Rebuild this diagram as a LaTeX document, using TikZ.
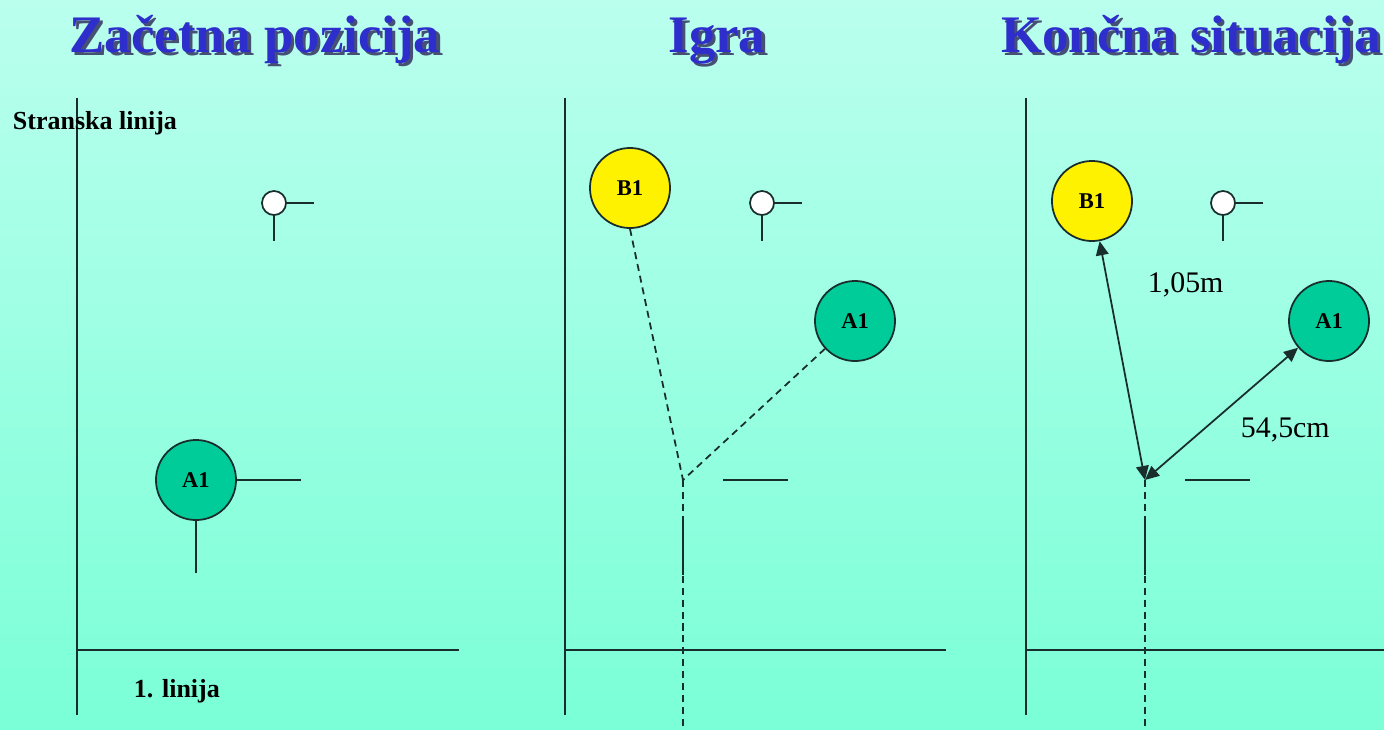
\documentclass[tikz,border=0pt]{standalone}
\usepackage{fontspec}
\setmainfont{Liberation Serif}
\usetikzlibrary{arrows.meta}
\definecolor{titleblue}{RGB}{46,46,204}
\definecolor{titleshade}{RGB}{70,80,115}
\definecolor{bgtop}{RGB}{186,255,238}
\definecolor{bgbot}{RGB}{122,255,214}
\definecolor{pen}{RGB}{25,45,45}
\definecolor{agreen}{RGB}{0,204,153}
\newcommand{\shadetitle}[1]{\makebox[0pt][l]{\kern0.9pt\raisebox{-0.9pt}{\color{titleshade}#1}}#1}

\begin{document}
\begin{tikzpicture}[x=0.01cm,y=-0.01cm,line width=0.5pt]
\tikzstyle{player}=[circle,draw=pen,minimum size=0.8cm,inner sep=0pt,font=\fontsize{6.4}{7}\selectfont\bfseries]
\tikzstyle{ball}=[circle,draw=pen,fill=white,minimum size=0.24cm,inner sep=0pt]
\tikzstyle{title}=[anchor=base,inner sep=0pt,text=titleblue,font=\fontsize{15}{18}\selectfont\bfseries]
\tikzstyle{small}=[anchor=base west,inner sep=0pt,font=\fontsize{7.4}{9}\selectfont\bfseries]
\tikzstyle{dist}=[anchor=base west,inner sep=0pt,font=\fontsize{8.5}{10}\selectfont]
\tikzstyle{dashline}=[dash pattern=on 2pt off 1.4pt]
\tikzstyle{measure}=[{Triangle[length=4pt,width=3.6pt]}-{Triangle[length=4pt,width=3.6pt]}]
\useasboundingbox (0,0) rectangle (1384,730);
\shade[top color=bgtop,bottom color=bgbot] (0,0) rectangle (1384,730);
\node[title] (tz) at (255,52) {\shadetitle{Začetna pozicija}};
\node[title] (ti) at (717,52) {\shadetitle{Igra}};
\node[title] (tk) at (1191,52) {\shadetitle{Končna situacija}};
% court lines
\foreach \x/\e in {77/459,565/946,1026/1384}{
	\draw[pen] (\x,98) -- (\x,715);
	\draw[pen] (\x,650) -- (\e,650);}
\node[small] (stranska) at (12,129) {Stranska linija};
\node[small] (prva) at (133,697) {1. linija};
% players and balls
\foreach \name/\point/\col/\txt in {
	za/{196,480}/agreen/A1,
	ib/{630,188}/yellow/B1,
	ia/{855,321}/agreen/A1,
	kb/{1092,201}/yellow/B1,
	ka/{1329,321}/agreen/A1}
	\node[player,fill=\col] (\name) at (\point) {\txt};
\foreach \name/\point in {zball/{274,203},iball/{762,203},kball/{1223,203}}{
	\node[ball] (\name) at (\point) {};
	\draw[pen] (\name.east) -- ++(27,0);
	\draw[pen] (\name.south) -- ++(0,25);}
\draw[pen] (za.east) -- ++(64,0);
\draw[pen] (za.south) -- ++(0,52);
\coordinate (im) at (683,480);
\coordinate (km) at (1145,480);
\coordinate (iend) at (683,730);
\coordinate (kend) at (1145,730);
\foreach \m in {im,km}{
	\draw[pen] (\m) ++(40,0) -- ++(65,0);
	\draw[pen] (\m) ++(0,36) -- ++(0,59);}
% Igra
\draw[pen,dashline] (ib.south) -- (im);
\draw[pen,dashline] (ia) -- (im);
\draw[pen,dashline] (im) -- (iend);
% Koncna situacija
\draw[pen,dashline] (km) -- (kend);
\draw[pen,measure] (kb) -- (km);
\draw[pen,measure] (ka) -- (km);
\node[dist] (d1) at (1147,292) {1,05m};
\node[dist] (d2) at (1240,437) {54,5cm};
\end{tikzpicture}
\end{document}
